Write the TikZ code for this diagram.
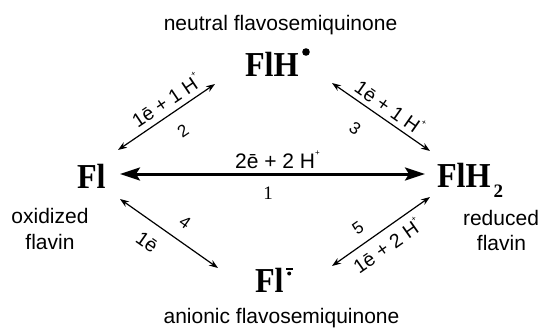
\documentclass[tikz,border=0pt]{standalone}
\usepackage{fontspec}
\setmainfont{Liberation Sans}
\newfontfamily\formfont{Liberation Serif}
\newfontfamily\chemfont[FakeStretch=0.92]{Liberation Serif}
\usetikzlibrary{arrows.meta}
\newcommand{\Hplus}{H\raisebox{0.6em}{\fontsize{8}{8}\selectfont +}}
\begin{document}
\begin{tikzpicture}[x=1pt,y=-1pt,
  every node/.style={inner sep=0pt, outer sep=0pt},
  lbl/.style={font=\fontsize{21}{21}\selectfont, anchor=base},
  alab/.style={font=\fontsize{19.5}{19.5}\selectfont},
  mlab/.style={font=\fontsize{21}{21}\selectfont, anchor=base},
  num/.style={font=\fontsize{17}{17}\selectfont},
  snum/.style={font=\formfont\fontsize{19}{19}\selectfont},
  chem/.style={font=\chemfont\bfseries\fontsize{35}{35}\selectfont, anchor=base west},
  thinarrow/.style={line width=1.2pt, {Stealth[length=9pt,width=6.5pt]}-{Stealth[length=9pt,width=6.5pt]}},
  thickarrow/.style={line width=3pt, {Stealth[length=20pt,width=13pt,inset=4pt]}-{Stealth[length=20pt,width=13pt,inset=4pt]}}
]
\fill[white] (0,0) rectangle (543,329);
\useasboundingbox (0,0) rectangle (543,329);

% species
\node[chem] (flh) at (245,77) {FlH};
\fill (306,52) circle (3.8);
\node[chem] (fl) at (77,188) {Fl};
\node[chem] (flh2) at (437,187) {FlH\hspace{3pt}\raisebox{-10pt}{\formfont\bfseries\fontsize{19}{19}\selectfont 2}};
\node[chem] (flm) at (255,292) {Fl};
\draw[line width=1.4pt] (286,269) -- (292.5,269);
\fill (289.2,273.5) circle (2);

% descriptions
\node[lbl] (tneutral) at (280.5,31) {neutral flavosemiquinone};
\node[lbl] (tanionic) at (281.5,323) {anionic flavosemiquinone};
\node[lbl] (tox1) at (50,223) {oxidized};
\node[lbl] (tox2) at (50,249) {flavin};
\node[lbl] (tred1) at (501,225) {reduced};
\node[lbl] (tred2) at (501.5,250) {flavin};

% arrow end points
\coordinate (a1l) at (120,174);
\coordinate (a1r) at (425,174);
\coordinate (a2l) at (118,150);
\coordinate (a2r) at (215,84);
\coordinate (a3l) at (332,83);
\coordinate (a3r) at (430,151);
\coordinate (a4l) at (120,199);
\coordinate (a4r) at (218,268);
\coordinate (a5l) at (332,266);
\coordinate (a5r) at (430,197);

\draw[thickarrow] (a1l) -- (a1r);
\draw[thinarrow] (a2l) -- (a2r);
\draw[thinarrow] (a3l) -- (a3r);
\draw[thinarrow] (a4l) -- (a4r);
\draw[thinarrow] (a5l) -- (a5r);

% arrow labels
\node[mlab] (l1) at (277.5,168) {2ē + 2 \Hplus};
\node[snum] (n1) at (268,193) {1};
\node[alab, rotate=34] (l2) at (166,100) {1ē + 1 \Hplus};
\node[num, rotate=34] (n2) at (183,131) {2};
\node[alab, rotate=-35] (l3) at (390,107) {1ē + 1 \Hplus};
\node[num, rotate=-35] (n3) at (355,128) {3};
\node[num, rotate=-35] (n4) at (185,222) {4};
\node[alab, rotate=-35] (l4) at (147,242) {1ē};
\node[num, rotate=35] (n5) at (358,228) {5};
\node[alab, rotate=35] (l5) at (387,245) {1ē + 2 \Hplus};
\end{tikzpicture}
\end{document}
